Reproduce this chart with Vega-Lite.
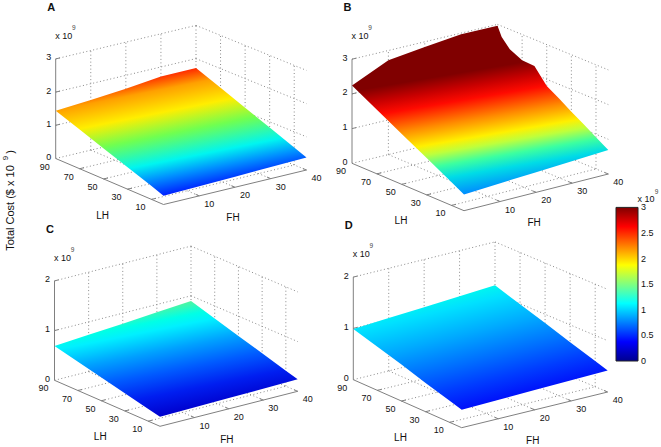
{"$schema":"https://vega.github.io/schema/vega-lite/v6.json","width":661,"height":447,"padding":0,"autosize":{"type":"fit","contains":"padding"},"background":"white","config":{"view":{"stroke":null},"text":{"font":"Liberation Sans","fill":"#111"}},
"params":[{"name":"P","value":{"A":{"x":[55.7,196,163.5,306.5],"y":[158.5,125,204.5,170],"k":33.2,"zmax":3},"B":{"x":[352,497.5,464,608.3],"y":[163.3,128.5,210.7,174],"k":34.7,"zmax":3},"C":{"x":[54.5,191,160,297.7],"y":[380.3,345.5,426.3,391.3],"k":49.7,"zmax":2},"D":{"x":[353.3,495,461.7,607.7],"y":[379.7,344.5,427.7,392],"k":51.3,"zmax":2},"E":{"x":[616,638,616,638],"y":[361,361,361,361],"k":51.2,"zmax":3}}}],
"data":{"values":[
{"kind":"surface","panel":["A"],"seq":1,"FH":0,"LH":90,"cost":1.44},{"kind":"surface","panel":["A"],"seq":2,"FH":10,"LH":90,"cost":1.51},{"kind":"surface","panel":["A"],"seq":3,"FH":20,"LH":90,"cost":1.60},{"kind":"surface","panel":["A"],"seq":4,"FH":30,"LH":90,"cost":1.71},{"kind":"surface","panel":["A"],"seq":5,"FH":40,"LH":90,"cost":1.72},{"kind":"surface","panel":["A"],"seq":6,"FH":40,"LH":70,"cost":1.42},{"kind":"surface","panel":["A"],"seq":7,"FH":40,"LH":50,"cost":1.12},{"kind":"surface","panel":["A"],"seq":8,"FH":40,"LH":30,"cost":0.83},{"kind":"surface","panel":["A"],"seq":9,"FH":40,"LH":10,"cost":0.53},{"kind":"surface","panel":["A"],"seq":10,"FH":40,"LH":0,"cost":0.38},{"kind":"surface","panel":["A"],"seq":11,"FH":20,"LH":0,"cost":0.32},{"kind":"surface","panel":["A"],"seq":12,"FH":0,"LH":0,"cost":0.265},{"kind":"surface","panel":["A"],"seq":13,"FH":0,"LH":10,"cost":0.40},{"kind":"surface","panel":["A"],"seq":14,"FH":0,"LH":30,"cost":0.66},{"kind":"surface","panel":["A"],"seq":15,"FH":0,"LH":50,"cost":0.92},{"kind":"surface","panel":["A"],"seq":16,"FH":0,"LH":70,"cost":1.18},
{"kind":"surface","panel":["B"],"seq":1,"FH":0,"LH":90,"cost":2.24},{"kind":"surface","panel":["B"],"seq":2,"FH":10,"LH":90,"cost":2.72},{"kind":"surface","panel":["B"],"seq":3,"FH":20,"LH":90,"cost":2.85},{"kind":"surface","panel":["B"],"seq":4,"FH":30,"LH":90,"cost":2.97},{"kind":"surface","panel":["B"],"seq":5,"FH":40,"LH":90,"cost":2.96},{"kind":"surface","panel":["B"],"seq":6,"FH":40,"LH":86.6,"cost":2.69},{"kind":"surface","panel":["B"],"seq":7,"FH":40,"LH":80,"cost":2.43},{"kind":"surface","panel":["B"],"seq":8,"FH":40,"LH":70,"cost":2.26},{"kind":"surface","panel":["B"],"seq":9,"FH":40,"LH":60,"cost":2.24},{"kind":"surface","panel":["B"],"seq":10,"FH":40,"LH":50,"cost":1.81},{"kind":"surface","panel":["B"],"seq":11,"FH":40,"LH":40,"cost":1.59},{"kind":"surface","panel":["B"],"seq":12,"FH":40,"LH":30,"cost":1.36},{"kind":"surface","panel":["B"],"seq":13,"FH":40,"LH":20,"cost":1.14},{"kind":"surface","panel":["B"],"seq":14,"FH":40,"LH":10,"cost":0.91},{"kind":"surface","panel":["B"],"seq":15,"FH":40,"LH":0,"cost":0.69},{"kind":"surface","panel":["B"],"seq":16,"FH":20,"LH":0,"cost":0.58},{"kind":"surface","panel":["B"],"seq":17,"FH":0,"LH":0,"cost":0.47},{"kind":"surface","panel":["B"],"seq":18,"FH":0,"LH":10,"cost":0.67},{"kind":"surface","panel":["B"],"seq":19,"FH":0,"LH":30,"cost":1.06},{"kind":"surface","panel":["B"],"seq":20,"FH":0,"LH":50,"cost":1.45},{"kind":"surface","panel":["B"],"seq":21,"FH":0,"LH":70,"cost":1.85},
{"kind":"surface","panel":["C"],"seq":1,"FH":0,"LH":90,"cost":0.69},{"kind":"surface","panel":["C"],"seq":2,"FH":10,"LH":90,"cost":0.74},{"kind":"surface","panel":["C"],"seq":3,"FH":20,"LH":90,"cost":0.79},{"kind":"surface","panel":["C"],"seq":4,"FH":30,"LH":90,"cost":0.845},{"kind":"surface","panel":["C"],"seq":5,"FH":40,"LH":90,"cost":0.895},{"kind":"surface","panel":["C"],"seq":6,"FH":40,"LH":70,"cost":0.75},{"kind":"surface","panel":["C"],"seq":7,"FH":40,"LH":50,"cost":0.60},{"kind":"surface","panel":["C"],"seq":8,"FH":40,"LH":30,"cost":0.46},{"kind":"surface","panel":["C"],"seq":9,"FH":40,"LH":10,"cost":0.31},{"kind":"surface","panel":["C"],"seq":10,"FH":40,"LH":0,"cost":0.24},{"kind":"surface","panel":["C"],"seq":11,"FH":20,"LH":0,"cost":0.215},{"kind":"surface","panel":["C"],"seq":12,"FH":0,"LH":0,"cost":0.19},{"kind":"surface","panel":["C"],"seq":13,"FH":0,"LH":10,"cost":0.245},{"kind":"surface","panel":["C"],"seq":14,"FH":0,"LH":30,"cost":0.355},{"kind":"surface","panel":["C"],"seq":15,"FH":0,"LH":50,"cost":0.47},{"kind":"surface","panel":["C"],"seq":16,"FH":0,"LH":70,"cost":0.58},
{"kind":"surface","panel":["D"],"seq":1,"FH":0,"LH":90,"cost":0.99},{"kind":"surface","panel":["D"],"seq":2,"FH":10,"LH":90,"cost":1.03},{"kind":"surface","panel":["D"],"seq":3,"FH":20,"LH":90,"cost":1.07},{"kind":"surface","panel":["D"],"seq":4,"FH":30,"LH":90,"cost":1.11},{"kind":"surface","panel":["D"],"seq":5,"FH":40,"LH":90,"cost":1.154},{"kind":"surface","panel":["D"],"seq":6,"FH":40,"LH":70,"cost":0.99},{"kind":"surface","panel":["D"],"seq":7,"FH":40,"LH":50,"cost":0.83},{"kind":"surface","panel":["D"],"seq":8,"FH":40,"LH":30,"cost":0.66},{"kind":"surface","panel":["D"],"seq":9,"FH":40,"LH":10,"cost":0.50},{"kind":"surface","panel":["D"],"seq":10,"FH":40,"LH":0,"cost":0.42},{"kind":"surface","panel":["D"],"seq":11,"FH":20,"LH":0,"cost":0.385},{"kind":"surface","panel":["D"],"seq":12,"FH":0,"LH":0,"cost":0.35},{"kind":"surface","panel":["D"],"seq":13,"FH":0,"LH":10,"cost":0.42},{"kind":"surface","panel":["D"],"seq":14,"FH":0,"LH":30,"cost":0.56},{"kind":"surface","panel":["D"],"seq":15,"FH":0,"LH":50,"cost":0.71},{"kind":"surface","panel":["D"],"seq":16,"FH":0,"LH":70,"cost":0.85},
{"kind":"grid","panel":["A","B","C","D"],"FH":0,"LH":90,"cost":0,"FH2":40},{"kind":"grid","panel":["A","B","C","D"],"FH":40,"LH":90,"cost":0,"LH2":0},{"kind":"grid","panel":["A","B","C","D"],"FH":0,"LH":90,"cost":1,"FH2":40},{"kind":"grid","panel":["A","B","C","D"],"FH":40,"LH":90,"cost":1,"LH2":0},{"kind":"grid","panel":["A","B","C","D"],"FH":0,"LH":90,"cost":2,"FH2":40},{"kind":"grid","panel":["A","B","C","D"],"FH":40,"LH":90,"cost":2,"LH2":0},{"kind":"grid","panel":["A","B"],"FH":0,"LH":90,"cost":3,"FH2":40},{"kind":"grid","panel":["A","B"],"FH":40,"LH":90,"cost":3,"LH2":0},
{"kind":"grid","panel":["A","B","C","D"],"FH":10,"LH":90,"cost":0,"cost2":3},{"kind":"grid","panel":["A","B","C","D"],"FH":20,"LH":90,"cost":0,"cost2":3},{"kind":"grid","panel":["A","B","C","D"],"FH":30,"LH":90,"cost":0,"cost2":3},{"kind":"grid","panel":["A","B","C","D"],"FH":40,"LH":90,"cost":0,"cost2":3},{"kind":"grid","panel":["A","B","C","D"],"FH":40,"LH":70,"cost":0,"cost2":3},{"kind":"grid","panel":["A","B","C","D"],"FH":40,"LH":50,"cost":0,"cost2":3},{"kind":"grid","panel":["A","B","C","D"],"FH":40,"LH":30,"cost":0,"cost2":3},{"kind":"grid","panel":["A","B","C","D"],"FH":40,"LH":10,"cost":0,"cost2":3},
{"kind":"grid","panel":["A","B","C","D"],"FH":10,"LH":90,"cost":0,"LH2":0},{"kind":"grid","panel":["A","B","C","D"],"FH":20,"LH":90,"cost":0,"LH2":0},{"kind":"grid","panel":["A","B","C","D"],"FH":30,"LH":90,"cost":0,"LH2":0},{"kind":"grid","panel":["A","B","C","D"],"FH":0,"LH":70,"cost":0,"FH2":40},{"kind":"grid","panel":["A","B","C","D"],"FH":0,"LH":50,"cost":0,"FH2":40},{"kind":"grid","panel":["A","B","C","D"],"FH":0,"LH":30,"cost":0,"FH2":40},{"kind":"grid","panel":["A","B","C","D"],"FH":0,"LH":10,"cost":0,"FH2":40},
{"kind":"axis","panel":["A","B","C","D"],"FH":0,"LH":90,"cost":0,"cost2":3},{"kind":"axis","panel":["A","B","C","D"],"FH":0,"LH":90,"cost":0,"LH2":0},{"kind":"axis","panel":["A","B","C","D"],"FH":0,"LH":0,"cost":0,"FH2":40},
{"kind":"axis","panel":["A","B","C","D"],"FH":0,"LH":90,"cost":1,"FH2":1.2},{"kind":"axis","panel":["A","B","C","D"],"FH":0,"LH":90,"cost":2,"FH2":1.2},{"kind":"axis","panel":["A","B"],"FH":0,"LH":90,"cost":3,"FH2":1.2},
{"kind":"axis","panel":["A","B","C","D"],"FH":0,"LH":70,"cost":0,"FH2":1.2},{"kind":"axis","panel":["A","B","C","D"],"FH":0,"LH":50,"cost":0,"FH2":1.2},{"kind":"axis","panel":["A","B","C","D"],"FH":0,"LH":30,"cost":0,"FH2":1.2},{"kind":"axis","panel":["A","B","C","D"],"FH":0,"LH":10,"cost":0,"FH2":1.2},
{"kind":"axis","panel":["A","B","C","D"],"FH":10,"LH":0,"cost":0,"LH2":3},{"kind":"axis","panel":["A","B","C","D"],"FH":20,"LH":0,"cost":0,"LH2":3},{"kind":"axis","panel":["A","B","C","D"],"FH":30,"LH":0,"cost":0,"LH2":3},{"kind":"axis","panel":["A","B","C","D"],"FH":40,"LH":0,"cost":0,"LH2":3},
{"kind":"ztick","panel":["A","B","C","D"],"FH":0,"LH":90,"cost":0,"label":"0"},{"kind":"ztick","panel":["A","B","C","D"],"FH":0,"LH":90,"cost":1,"label":"1"},{"kind":"ztick","panel":["A","B","C","D"],"FH":0,"LH":90,"cost":2,"label":"2"},{"kind":"ztick","panel":["A","B"],"FH":0,"LH":90,"cost":3,"label":"3"},
{"kind":"lhtick","panel":["A","B","C","D"],"FH":0,"LH":90,"cost":0,"label":"90"},{"kind":"lhtick","panel":["A","B","C","D"],"FH":0,"LH":70,"cost":0,"label":"70"},{"kind":"lhtick","panel":["A","B","C","D"],"FH":0,"LH":50,"cost":0,"label":"50"},{"kind":"lhtick","panel":["A","B","C","D"],"FH":0,"LH":30,"cost":0,"label":"30"},{"kind":"lhtick","panel":["A","B","C","D"],"FH":0,"LH":10,"cost":0,"label":"10"},
{"kind":"fhtick","panel":["A","B","C","D"],"FH":10,"LH":0,"cost":0,"label":"10"},{"kind":"fhtick","panel":["A","B","C","D"],"FH":20,"LH":0,"cost":0,"label":"20"},{"kind":"fhtick","panel":["A","B","C","D"],"FH":30,"LH":0,"cost":0,"label":"30"},{"kind":"fhtick","panel":["A","B","C","D"],"FH":40,"LH":0,"cost":0,"label":"40"},
{"kind":"lhtitle","panel":["A","B","C","D"],"FH":0,"LH":45,"cost":0,"label":"LH"},{"kind":"fhtitle","panel":["A","B","C","D"],"FH":20,"LH":0,"cost":0,"label":"FH"},
{"kind":"exp","panel":["A","B","C","D"],"FH":0,"LH":90,"cost":3,"label":"x 10"},{"kind":"expsup","panel":["A","B","C","D"],"FH":0,"LH":90,"cost":3,"label":"9"},
{"kind":"letter","panel":["A"],"FH":0,"LH":90,"cost":3,"label":"A"},{"kind":"letter","panel":["B"],"FH":0,"LH":90,"cost":3,"label":"B"},{"kind":"letter","panel":["C"],"FH":0,"LH":90,"cost":3,"label":"C"},{"kind":"letter","panel":["D"],"FH":0,"LH":90,"cost":3,"label":"D"},
{"kind":"ytitle","panel":["A"],"FH":0,"LH":90,"cost":0,"label":"Total Cost ($ x 10"},{"kind":"ytitlesup","panel":["A"],"FH":0,"LH":90,"cost":0,"label":"9"},{"kind":"ytitleend","panel":["A"],"FH":0,"LH":90,"cost":0,"label":")"},
{"kind":"bar","panel":["E"],"FH":0,"LH":90,"cost":0,"FH2":40,"cost2":3},
{"kind":"barlabel","panel":["E"],"FH":40,"LH":90,"cost":0,"label":"0"},{"kind":"barlabel","panel":["E"],"FH":40,"LH":90,"cost":0.5,"label":"0.5"},{"kind":"barlabel","panel":["E"],"FH":40,"LH":90,"cost":1,"label":"1"},{"kind":"barlabel","panel":["E"],"FH":40,"LH":90,"cost":1.5,"label":"1.5"},{"kind":"barlabel","panel":["E"],"FH":40,"LH":90,"cost":2,"label":"2"},{"kind":"barlabel","panel":["E"],"FH":40,"LH":90,"cost":2.5,"label":"2.5"},{"kind":"barlabel","panel":["E"],"FH":40,"LH":90,"cost":3,"label":"3"},
{"kind":"barexp","panel":["E"],"FH":40,"LH":90,"cost":3,"label":"x 10"},{"kind":"barexpsup","panel":["E"],"FH":40,"LH":90,"cost":3,"label":"9"}
]},
"transform":[
{"flatten":["panel"]},
{"calculate":"P[datum.panel]","as":"q"},
{"calculate":"datum.FH/40","as":"u"},
{"calculate":"(90-datum.LH)/90","as":"v"},
{"calculate":"(isValid(datum.FH2)?datum.FH2:datum.FH)/40","as":"u2"},
{"calculate":"(90-(isValid(datum.LH2)?datum.LH2:datum.LH))/90","as":"v2"},
{"calculate":"(1-datum.v)*((1-datum.u)*datum.q.x[0]+datum.u*datum.q.x[1])+datum.v*((1-datum.u)*datum.q.x[2]+datum.u*datum.q.x[3])","as":"px"},
{"calculate":"(1-datum.v)*((1-datum.u)*datum.q.y[0]+datum.u*datum.q.y[1])+datum.v*((1-datum.u)*datum.q.y[2]+datum.u*datum.q.y[3])-datum.cost*datum.q.k","as":"py"},
{"calculate":"(1-datum.v2)*((1-datum.u2)*datum.q.x[0]+datum.u2*datum.q.x[1])+datum.v2*((1-datum.u2)*datum.q.x[2]+datum.u2*datum.q.x[3])","as":"px2"},
{"calculate":"(1-datum.v2)*((1-datum.u2)*datum.q.y[0]+datum.u2*datum.q.y[1])+datum.v2*((1-datum.u2)*datum.q.y[2]+datum.u2*datum.q.y[3])-min(isValid(datum.cost2)?datum.cost2:datum.cost,datum.q.zmax)*datum.q.k","as":"py2"},
{"calculate":"datum.kind=='exp'||datum.kind=='expsup'||datum.kind=='letter'?datum.q.y[0]-datum.q.zmax*datum.q.k:datum.py","as":"py"}
],
"encoding":{"x":{"field":"px","type":"quantitative","scale":{"domain":[0,661],"nice":false,"zero":false},"axis":null},"y":{"field":"py","type":"quantitative","scale":{"domain":[447,0],"nice":false,"zero":false},"axis":null}},
"layer":[
{"transform":[{"filter":"datum.kind=='grid'"}],"mark":{"type":"rule","stroke":"#8a8a8a","strokeWidth":1,"strokeDash":[1,2.5]},"encoding":{"x2":{"field":"px2"},"y2":{"field":"py2"}}},
{"transform":[{"filter":"datum.kind=='axis'"}],"mark":{"type":"rule","stroke":"#808080","strokeWidth":1},"encoding":{"x2":{"field":"px2"},"y2":{"field":"py2"}}},
{"transform":[{"filter":"datum.kind=='surface'&&datum.panel=='A'"}],"mark":{"type":"line","interpolate":"linear-closed","strokeWidth":0,"fill":{"gradient":"linear","x1":0.564,"y1":0,"x2":0.884,"y2":0.822,"stops":[{"offset":0,"color":"#ff2a00"},{"offset":0.12,"color":"#ffa000"},{"offset":0.31,"color":"#ffee00"},{"offset":0.5,"color":"#70ff50"},{"offset":0.72,"color":"#00f5f0"},{"offset":0.85,"color":"#0090ff"},{"offset":1,"color":"#0020ff"}]}},"encoding":{"order":{"field":"seq","type":"quantitative"}}},
{"transform":[{"filter":"datum.kind=='surface'&&datum.panel=='B'"}],"mark":{"type":"line","interpolate":"linear-closed","strokeWidth":0,"fill":{"gradient":"linear","x1":0.565,"y1":0,"x2":0.80,"y2":0.905,"stops":[{"offset":0,"color":"#800000"},{"offset":0.25,"color":"#800000"},{"offset":0.34,"color":"#c80000"},{"offset":0.42,"color":"#ff0a00"},{"offset":0.55,"color":"#ff8c00"},{"offset":0.66,"color":"#fff000"},{"offset":0.72,"color":"#beff3c"},{"offset":0.8,"color":"#3cffa0"},{"offset":0.88,"color":"#00dce6"},{"offset":1,"color":"#008cff"}]}},"encoding":{"order":{"field":"seq","type":"quantitative"}}},
{"transform":[{"filter":"datum.kind=='surface'&&datum.panel=='C'"}],"mark":{"type":"line","interpolate":"linear-closed","strokeWidth":0,"fill":{"gradient":"linear","x1":0.565,"y1":0,"x2":0.90,"y2":0.805,"stops":[{"offset":0,"color":"#50f5a0"},{"offset":0.12,"color":"#00ffe6"},{"offset":0.2,"color":"#00f0ff"},{"offset":0.4,"color":"#00a0ff"},{"offset":0.6,"color":"#005aff"},{"offset":0.8,"color":"#001ef0"},{"offset":1,"color":"#0000cd"}]}},"encoding":{"order":{"field":"seq","type":"quantitative"}}},
{"transform":[{"filter":"datum.kind=='surface'&&datum.panel=='D'"}],"mark":{"type":"line","interpolate":"linear-closed","strokeWidth":0,"fill":{"gradient":"linear","x1":0.565,"y1":0,"x2":0.94,"y2":0.746,"stops":[{"offset":0,"color":"#00f5f0"},{"offset":0.1,"color":"#00e1ff"},{"offset":0.35,"color":"#00aaff"},{"offset":0.6,"color":"#006eff"},{"offset":0.8,"color":"#003cff"},{"offset":1,"color":"#000ffa"}]}},"encoding":{"order":{"field":"seq","type":"quantitative"}}},
{"transform":[{"filter":"datum.kind=='bar'"}],"mark":{"type":"rect","stroke":"#222","strokeWidth":1,"fill":{"gradient":"linear","x1":0,"y1":1,"x2":0,"y2":0,"stops":[{"offset":0,"color":"#00008f"},{"offset":0.125,"color":"#0000ff"},{"offset":0.375,"color":"#00ffff"},{"offset":0.625,"color":"#ffff00"},{"offset":0.875,"color":"#ff0000"},{"offset":1,"color":"#800000"}]}},"encoding":{"x2":{"field":"px2"},"y2":{"field":"py2"}}},
{"transform":[{"filter":"datum.kind=='ztick'"}],"mark":{"type":"text","fontSize":9,"align":"right","baseline":"middle","dx":-4.5,"dy":-1.5},"encoding":{"text":{"field":"label"}}},
{"transform":[{"filter":"datum.kind=='lhtick'"}],"mark":{"type":"text","fontSize":9,"align":"center","baseline":"middle","dx":-11,"dy":8},"encoding":{"text":{"field":"label"}}},
{"transform":[{"filter":"datum.kind=='fhtick'"}],"mark":{"type":"text","fontSize":9,"align":"center","baseline":"middle","dx":10,"dy":8},"encoding":{"text":{"field":"label"}}},
{"transform":[{"filter":"datum.kind=='lhtitle'"}],"mark":{"type":"text","fontSize":10,"align":"center","baseline":"middle","dx":-7,"dy":34},"encoding":{"text":{"field":"label"}}},
{"transform":[{"filter":"datum.kind=='fhtitle'"}],"mark":{"type":"text","fontSize":10,"align":"center","baseline":"middle","dx":-2,"dy":31},"encoding":{"text":{"field":"label"}}},
{"transform":[{"filter":"datum.kind=='exp'"}],"mark":{"type":"text","fontSize":9,"align":"center","baseline":"middle","dx":8,"dy":-23},"encoding":{"text":{"field":"label"}}},
{"transform":[{"filter":"datum.kind=='expsup'"}],"mark":{"type":"text","fontSize":6.5,"align":"center","baseline":"middle","dx":18,"dy":-31,"fill":"#444"},"encoding":{"text":{"field":"label"}}},
{"transform":[{"filter":"datum.kind=='letter'"}],"mark":{"type":"text","fontSize":11,"fontWeight":"bold","align":"center","baseline":"middle","dx":-4.5,"dy":-51},"encoding":{"text":{"field":"label"}}},
{"transform":[{"filter":"datum.kind=='ytitle'"}],"mark":{"type":"text","fontSize":11,"angle":270,"align":"center","baseline":"middle","dx":-49.5,"dy":-44.7},"encoding":{"text":{"field":"label"}}},
{"transform":[{"filter":"datum.kind=='ytitlesup'"}],"mark":{"type":"text","fontSize":8,"angle":270,"align":"center","baseline":"middle","dx":0.5,"dy":-49.7},"encoding":{"text":{"field":"label"}}},
{"transform":[{"filter":"datum.kind=='ytitleend'"}],"mark":{"type":"text","fontSize":11,"angle":270,"align":"center","baseline":"middle","dx":6.5,"dy":-44.7},"encoding":{"text":{"field":"label"}}},
{"transform":[{"filter":"datum.kind=='barlabel'"}],"mark":{"type":"text","fontSize":9,"align":"left","baseline":"middle","dx":3},"encoding":{"text":{"field":"label"}}},
{"transform":[{"filter":"datum.kind=='barexp'"}],"mark":{"type":"text","fontSize":9,"align":"center","baseline":"middle","dx":8,"dy":-8.5},"encoding":{"text":{"field":"label"}}},
{"transform":[{"filter":"datum.kind=='barexpsup'"}],"mark":{"type":"text","fontSize":6.5,"align":"center","baseline":"middle","dx":18.5,"dy":-15.5,"fill":"#444"},"encoding":{"text":{"field":"label"}}}
]}
